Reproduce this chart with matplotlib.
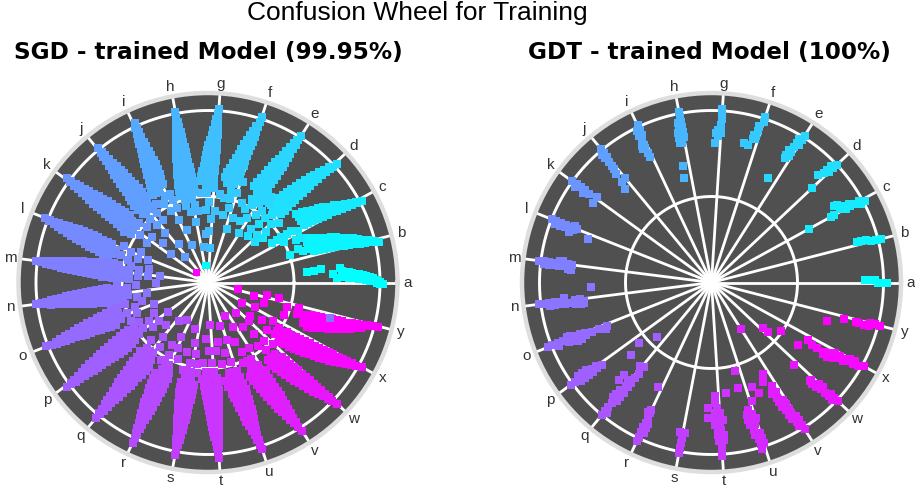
import numpy as np
import matplotlib
matplotlib.use("Agg")
import matplotlib.pyplot as plt

letters = list("abcdefghijklmnopqrstuvwxy")
main_title = "Confusion Wheel for Training"
left_title = "SGD - trained Model (99.95%)"
right_title = "GDT - trained Model (100%)"

# each row: radius (percent of outer ring), then angular offsets (degrees) from the class spoke
sgd_a = [(102,-.5),(100,-.5,.3),(98,0,1),(96,.4,1.6),(94,.6,1.3,2),(92,1,1.7,2.4),(90,1.2,2,2.8),(88,1.3,2.2,3.1),(86,1.6,2.5,3.4),(84,1.8,2.8,3.8),(82,2,3.1,4.2),(80,2.2,3.3,4.4),(78,3,5),(77,6.5),(75,2.2),(73,4),(66,7),(62,6),(58,6)]
sgd_b = [(102,-1),(99,-.7,-.2),(97,-.4,.4),(94,-.2,.4,1),(91,0,.9,1.8),(88,.2,1.4,2.6),(85,.6,2,3.4),(82,.8,2.6,4.2),(79,1,3,5),(76,1.3,2.8,4.3,5.8),(73,1.6,3.2,4.8,6.5),(70,1.8,3.6,5.6,7.4),(67,2,4,6.1,8.2),(64,2,4.4,6.8,9.2),(62,4,6,8),(58,4),(56,6),(50,4)]
sgd_c = [(101,-1),(98,-.8,-.2),(95,-.4,.4),(92,-.2,.4,1),(89,0,.9,1.8),(86,.2,1.4,2.6),(83,.6,1.9,3.2),(80,.8,2.8,4.4),(77,1,3.2,5.2),(74,1.2,2.8,4.4,6),(71,1.6,3.2,5,6.8),(68,2,4,6,8),(65,2.4,4.6,6.9,9.2),(60,-3,1),(57,3,-3),(54,3),(50,3,-1),(47,3),(44,3),(41,10)]
sgd_d = [(102,-.5),(99,-.3),(97,-.2,.4),(94,0,.5,1),(91,.1,.8,1.6),(88,.2,1.2,2.2),(85,.2,1.5,2.8),(82,.2,1.8,3.4),(79,.2,2.1,4),(76,.2,1.7,3.2,4.6),(73,.2,1.9,3.6,5.2),(70,.3,2.1,3.9,5.7),(67,.2,2.3,4.4,6.4),(64,0,1.8,3.6,5.4,7.2),(61,-.2,1.9,3.9,6,8),(58,0,2,4,6,8),(54,-3,3),(50,0,5),(45,-2,6),(40,1,8),(36,-2,6)]
sgd_e = [(101,0),(98,0,.4),(95,0,.8),(92,-.2,.5,1.2),(89,-.2,.7,1.6),(86,-.3,.9,2),(83,-.4,1,2.6),(80,-.5,1.2,3.2),(77,-.6,1.4,3.6),(74,-.6,1,2.6,4.2),(71,-.4,1.4,3,4.8),(68,-.2,1.6,3.6,5.4),(65,.2,2.2,4.2,6.4),(62,-4,-2,-.2,1.6,3.4,5.2,7),(58,-5,-3,-1,1,3),(55,0,5),(52,-5,3),(48,-3,6),(44,1),(40,-6,5),(34,0)]
sgd_f = [(101,0),(98,.2),(95,.2,.8),(92,.2,.8,1.4),(89,.3,1.1,2),(86,.4,1.5,2.7),(83,.5,1.8,3.4),(80,.6,2.2,4),(77,.8,2.6,4.6),(74,1,2.4,3.8,5.2),(71,1,2.6,4.2,6),(68,1.4,3.2,5,7),(65,1.6,3.2,4.8,6.4,8),(62,-1,1,3,5,7,9),(59,3,5,7),(55,0,4),(50,-5,3,7),(45,2),(40,-3,5),(33,-2)]
sgd_g = [(101,0),(98,.2),(95,.1,.7),(92,0,.6,1.2),(89,-.1,.8,1.7),(86,-.2,1,2.2),(83,-.2,1.4,2.8),(80,-.3,1.6,3.4),(77,-.2,1.8,3.9),(74,-.2,1.4,3,4.6),(71,0,1.7,3.4,5.2),(68,0,1.9,3.8,5.8),(65,.2,1.8,3.4,5,6.6),(62,.2,2,3.8,5.6,7.4),(59,.2,2.2,4,6,8),(55,0,2.5,5),(52,-4,4,8),(47,3),(42,-2,5),(37,1),(30,2),(20,0)]
sgd_h = [(101,0),(98,0),(95,-.2,.5),(92,-.4,.3,1),(89,-.5,.4,1.4),(86,-.7,.5,1.8),(83,-.8,.6,2.2),(80,-1,.8,2.6),(77,-1.2,1,3.1),(74,-1.4,.3,2,3.6),(71,-1.6,.2,2.2,4),(68,-1.8,.3,2.4,4.6),(65,-2,.4,2.8,5.2),(62,-2.2,-.2,1.8,3.8,5.8),(59,-2.2,0,2,4,6.2),(56,-2.4,0,2,4,6.5),(53,-2.4,0,2.2,4.6,7),(50,0,2.5,5),(46,-1,5),(42,-3,3),(36,0),(28,-8),(21,-4)]
sgd_i = [(102,-.5),(99,-.5,0),(96,-.5,.4),(93,-.6,.1,.8),(90,-.7,.2,1.2),(87,-.8,.4,1.6),(84,-1,.6,2.2),(81,-1.2,.8,2.6),(78,-1.4,1,3.1),(75,-1.4,.3,2,3.6),(72,-1.6,.4,2.4,4.2),(69,-1.4,.7,2.8,4.8),(66,-1,1.2,3.4,5.6),(63,-.6,1.2,3,4.8,6.4),(60,3,5,7),(56,1,-2),(52,-2,4),(47,2,-3),(40,0),(33,-4),(24,-2)]
sgd_j = [(101,-.5),(98,-.5,0),(95,-.7,.2),(92,-1,-.2,.5),(89,-1.2,-.2,.8),(86,-1.5,-.2,1),(83,-1.8,-.2,1.4),(80,-2,0,1.8),(77,-2.4,0,2.2),(74,-2.6,-.9,.8,2.5),(71,-3,-1,1,2.8),(68,-3.2,-1,1,3.2),(65,-3.6,-1.2,1.2,3.8),(62,-4,-2,.2,2.2,4.4),(59,-3,-1,1,3,4.4),(55,-6,-4,-1,1.5,4),(50,3,-3),(45,-4,2),(38,1),(28,-2),(20,3)]
sgd_k = [(102,-.5),(99,-.6,-.1),(96,-.8,.2),(93,-1,-.3,.4),(90,-1.2,-.3,.6),(87,-1.5,-.4,.8),(84,-1.9,-.3,1.2),(81,-2.2,-.3,1.6),(78,-2.5,-.4,1.8),(75,-2.9,-1.2,.4,2),(72,-3.2,-1.4,.4,2.2),(69,-3.6,-1.6,.4,2.4),(66,-4,-1.8,.4,2.8),(63,-4.4,-2,.4,3.2),(60,-4.8,-2.6,-.6,1.6,3.6),(57,-3,-1,1,3,5),(53,-5,-2,1,4),(48,-6,1),(42,-3,3),(35,-5),(27,-2)]
sgd_l = [(102,0),(99,0,.4),(96,0,.9),(93,-.2,.6,1.4),(90,-.3,.7,1.8),(87,-.4,.9,2.2),(84,-.6,1,2.8),(81,-.8,1.2,3.2),(78,-1,1.4,3.7),(75,-1,.7,2.4,4.2),(72,-1,.9,2.8,4.8),(69,-.8,1.2,3.2,5.4),(66,-.6,1.4,3.6,6),(63,-.6,1.6,3.8,6.8),(60,-.4,1.6,3.6,5.6,7.6),(57,2,3.5,5),(53,-2,4),(48,0,6),(43,-3,3),(37,1)]
sgd_m = [(101,0),(98,0,.3),(95,-.3,.6),(92,-.6,.1,.9),(89,-.9,.1,1.2),(86,-1.1,.1,1.4),(83,-1.5,0,1.7),(80,-1.8,0,2),(77,-2,0,2.3),(74,-2.4,-.8,.9,2.6),(71,-2.6,-.8,1,2.9),(68,-3,-1,1,3.2),(65,-3.3,-1.1,1.2,3.6),(62,-3.7,-1.2,1.4,4),(59,-4,-2,0,2.2,4.3),(56,-4.2,-2,0,2.2,4.4),(53,-4,-1,2,5),(50,-1,1.5,4),(46,-5,1,5),(41,-3,2),(35,1,-6),(28,0)]
sgd_n = [(101,0),(98,-.2,.2),(95,-.5,.5),(92,-.8,0,.8),(89,-1,0,1),(86,-1.3,0,1.2),(83,-1.7,0,1.6),(80,-1.9,0,1.9),(77,-2.1,0,2.2),(74,-2.5,-.8,.9,2.5),(71,-2.7,-.9,1,2.8),(68,-3,-1,1,3.2),(65,-3.4,-1,1.2,3.6),(62,-3.7,-1.2,1.4,4),(59,-4,-1.8,.3,2.4,4.6),(56,-3.6,-1.6,.3,2.2,4.2),(53,-5,-2.5,0,2.5,5),(50,-2,.5,3),(47,-3,2),(42,-5,4),(36,3),(30,-7)]
sgd_o = [(101,0),(98,0,.3),(95,-.4,.5),(92,-.7,0,.6),(89,-1,-.1,.7),(86,-1.4,-.3,.8),(83,-1.8,-.4,1),(80,-2.2,-.5,1.3),(77,-2.6,-.6,1.6),(74,-3,-1.4,.2,1.8),(71,-3.4,-1.6,.2,2),(68,-3.8,-1.8,.3,2.4),(65,-4.4,-2,.3,2.6),(62,-5,-2.6,-.2,1.4,3),(59,-5.4,-3.2,-1.2,1,3),(55,-6,-3,-1,1),(50,-7,-1,5),(45,-3,2),(40,-6),(34,0)]
sgd_p = [(102,.5),(99,.2,.6),(96,0,.9),(93,-.4,.3,1),(90,-.7,.3,1.2),(87,-1,.2,1.4),(84,-1.5,0,1.6),(81,-1.9,-.2,1.8),(78,-2.2,-.3,2),(75,-2.6,-1,.6,2.2),(72,-3,-1.2,.6,2.4),(69,-3.3,-1.3,.7,2.6),(66,-3.8,-1.6,.6,2.8),(63,-4.2,-1.8,.6,3),(60,-4.6,-2.6,-.6,1.4,3.2),(57,-5,-3,-1,1,3.2),(54,-5.6,-3.6,-1.6,.4,2.4),(50,-5,-2,1),(46,-6,-1),(41,-3,3),(36,-7,2),(29,0)]
sgd_q = [(102,0),(99,-.2,.2),(96,-.5,.5),(93,-.7,0,.8),(90,-1,0,1),(87,-1.3,0,1.3),(84,-1.7,0,1.7),(81,-2,0,2),(78,-2.3,0,2.3),(75,-2.6,-.9,.9,2.7),(72,-2.8,-.9,1.1,3),(69,-3.2,-1,1.2,3.5),(66,-3.7,-1.2,1.4,4),(63,-4,-1.3,1.5,4.4),(60,-4,-2,.4,2.6,4.8),(56,-5,-3,-1,1,3),(52,-3,-.5,2),(47,-5,3),(41,0),(35,-5),(28,3)]
sgd_r = [(103,0),(100,0),(97,-.4,.2),(94,-.7,-.2,.3),(91,-1,-.3,.4),(88,-1.5,-.5,.5),(85,-1.9,-.4,1),(82,-2.4,-.5,1.2),(79,-2.8,-.6,1.4),(76,-3,-1.5,0,1.6),(73,-3.6,-1.8,0,1.8),(70,-4,-2,0,2),(67,-4.4,-2.2,-.1,2.2),(64,-5,-2.6,-.2,2.4),(61,-5.4,-3.4,-1.4,.6,2.6),(57,-3,-.5,2),(53,-6,-3,0),(48,-3,4),(42,-5,1),(35,-1),(25,-4)]
sgd_s = [(102,0),(99,0),(96,-.3,.3),(93,-.6,0,.6),(90,-.9,0,.8),(87,-1.2,-.1,1),(84,-1.6,-.1,1.4),(81,-1.9,-.2,1.6),(78,-2.2,-.3,1.9),(75,-2.6,-1,.6,2),(72,-3,-1.2,.6,2.2),(69,-3.4,-1.4,.6,2.4),(66,-3.8,-1.6,.6,2.8),(63,-4.2,-1.8,.6,3),(60,-4.6,-2.6,-.6,1.4,3.2),(57,-3,-1,1),(53,-5,-2.5,0,2,4),(48,-2,3),(42,-6,1),(36,-1),(28,-5)]
sgd_t = [(102,0),(99,-.2),(96,-.5,.2),(93,-.9,-.3,.3),(90,-1.2,-.4,.4),(87,-1.6,-.5,.6),(84,-2,-.6,.9),(81,-2.4,-.8,1.1),(78,-2.9,-1,1.2),(75,-3.2,-1.6,0,1.4),(72,-3.7,-1.8,-.1,1.6),(69,-4,-2,-.2,1.6),(66,-4.6,-2.4,-.3,1.8),(63,-5,-2.6,-.3,2),(60,-5.6,-3.6,-1.6,.2,2),(56,-7,-4.5,-2,0,2),(52,-5,-2.5,0),(47,-7,-1),(40,-3,3),(33,-6),(25,-1)]
sgd_u = [(102,0),(99,-.3),(96,-.6,-.1),(93,-1,-.5,0),(90,-1.6,-.7,.2),(87,-2,-.9,.2),(84,-2.6,-1,.6),(81,-3,-1.2,.8),(78,-3.5,-1.5,1),(75,-4,-2.2,-.5,1.2),(72,-4.6,-2.5,-.6,1.2),(69,-5.2,-3,-.8,1.4),(66,-6,-3.6,-1,1.6),(62,-7,-4.8,-2.8,-.7,1.4),(58,-8,-5.5,-3,-1,1),(54,-5,-2.5,0),(48,-8,-2),(42,-4),(35,-8,0),(26,-3)]
sgd_v = [(102,0),(99,-.4),(96,-.9,-.2),(93,-1.5,-.8,-.1),(90,-2,-1,0),(87,-2.6,-1.3,0),(84,-3.2,-1.4,.2),(81,-3.7,-1.8,.4),(78,-4.2,-2.2,.4),(75,-5,-3.2,-1.4,.4),(72,-5.6,-3.6,-1.6,.4),(69,-6.2,-4,-1.8,.4),(66,-7,-4.6,-2.2,.2),(63,-8,-5.4,-2.7,0),(60,-8.4,-6.2,-4,-2,0),(56,-6,-3.5,-1),(51,-9,-6,-3),(45,-6,0),(38,-8),(30,-3),(22,-6)]
sgd_w = [(103,0),(100,-.5),(97,-1,-.3),(94,-1.6,-.9,-.2),(91,-2.2,-1.3,-.4),(88,-2.9,-1.7,-.5),(85,-3.6,-2,-.6),(82,-4.2,-2.4,-.6),(79,-4.8,-2.8,-.8),(76,-5.6,-4,-2.4,-1),(73,-6.2,-4.5,-2.8,-1.2),(70,-7,-5,-3.2,-1.4),(67,-7.8,-5.7,-3.7,-1.6),(64,-8.6,-6.4,-4,-1.8),(61,-9.6,-7.5,-5.6,-3.8,-2),(57,-9,-6.5,-4),(52,-6,0),(47,-9,-3),(40,-5),(33,-9,0),(24,-5)]
sgd_x = [(102,0),(99,-.6),(96,-1,-.4),(93,-1.9,-1.2,-.6),(90,-2.6,-1.7,-.8),(87,-3.2,-2.1,-1),(84,-4,-2.4,-1),(81,-4.6,-2.8,-1.2),(78,-5.2,-3.2,-1.4),(75,-6,-4.4,-3,-1.6),(72,-6.6,-4.9,-3.3,-1.8),(69,-7.4,-5.6,-3.8,-2),(66,-8.2,-6,-4.2,-2.4),(63,-9,-6.8,-4.8,-2.6),(60,-9.8,-8,-6,-4.5,-3),(57,-10.4,-8.6,-6.6,-5,-3.4),(54,-11,-9,-7,-5,-3.4),(49,-9,-6.5,-4),(44,-10,-2),(38,-6),(31,-10,1),(23,-3)]
sgd_y = [(102,-.2),(99,-.5),(96,-1,-.6),(93,-2,-1.5,-1),(90,-2.8,-2,-1.2),(87,-3.6,-2.5,-1.5),(84,-4.4,-3,-1.7),(81,-5.2,-3.4,-1.8),(78,-6,-3.8,-2),(75,-6.8,-5.2,-3.6,-2.2),(72,-7.4,-5.6,-4,-2.4),(69,-8.2,-6.2,-4.4,-2.6),(66,-9,-7,-5,-3),(63,-10,-7.8,-5.4,-3.2),(60,-9,-6.5,-4),(55,-5,-3,-1),(48,-3,-9),(42,2),(35,-6,2),(28,-2),(18,2)]

gdt_a = [(102,0),(100,0),(97,0),(95,1),(93,1),(91,1),(89,1)]
gdt_b = [(102,0),(99,0),(96,0),(93,1),(90,1),(88,1)]
gdt_c = [(101,-1),(98,-1,0),(95,0),(92,0,1),(89,1,0),(86,1,3),(84,3),(81,0),(79,0),(65,0)]
gdt_d = [(100,0),(97,0,1),(94,0,1),(91,1),(88,2),(80,0)]
gdt_e = [(101,0),(98,0,1),(95,0,1),(92,1),(89,1,2),(86,1,2),(84,2),(69,4)]
gdt_f = [(101,0),(98,0),(95,1),(92,1),(89,1,2),(87,1,2),(83,3,5)]
gdt_g = [(101,0),(98,0),(95,0),(92,0),(89,1),(87,0,2),(85,1),(81,2)]
gdt_h = [(101,0),(98,0),(95,0,1),(92,0,1),(89,0,1,2),(86,0,2),(83,1,2),(70,3),(63,4)]
gdt_i = [(101,0),(98,0,1),(95,0,1),(92,1),(89,1,2),(87,1,2),(84,1),(81,1)]
gdt_j = [(101,0),(98,0,1),(95,0,1),(92,1),(89,1),(87,1),(84,2),(79,0),(78,2),(74,3)]
gdt_k = [(100,0),(97,0,1),(94,0),(91,0,1),(88,0),(83,-1,2)]
gdt_l = [(100,0),(97,0,1),(94,0,1),(91,0,1),(88,0,2),(86,-1,1),(84,0),(76,2)]
gdt_m = [(101,0),(98,0,1),(95,0,1),(92,0,1),(89,-1,1),(87,-1,1),(84,0,2),(82,0,2)]
gdt_n = [(101,0),(98,0),(95,0,1),(92,0,1),(89,0,1),(86,-1,1),(84,1),(80,0,2),(77,0,2),(75,1,2),(70,-5)]
gdt_o = [(102,0),(99,0),(96,0,1),(93,0),(90,-1,1),(88,-1,1),(85,0,2),(82,0,2),(79,0,1),(75,1),(71,1),(67,2),(66,1)]
gdt_p = [(101,0),(98,0),(95,-1,1),(92,-1,1),(89,-1,1),(86,0,1),(83,0,1),(80,1),(63,6),(55,4),(45,9)]
gdt_q = [(100,0),(97,0,1),(94,0),(91,0),(88,-1,1),(85,-1,1),(82,-1,1),(78,-4,0,1),(75,-1,1),(74,-4),(71,1),(68,1),(64,-1),(63,1)]
gdt_r = [(102,0),(99,0),(96,0,1),(93,0,1),(90,0,1),(87,0),(84,-1,0),(82,0),(68,-2)]
gdt_s = [(101,0),(98,0),(95,0),(92,0),(89,-1,1)]
gdt_t = [(101,0),(98,0),(95,0),(92,-1,1),(89,-1,1),(86,-1,0),(83,-2,0),(80,-2,1),(79,-5),(76,-2,0),(73,-5,-1),(70,-2),(66,-2),(65,4)]
gdt_u = [(101,-1),(98,-1,0),(95,-1,0),(92,-2,0),(89,-2),(86,-3,-1),(83,-3,0),(80,-3,-1),(77,-2),(73,1),(65,3),(63,-4),(53,-3)]
gdt_v = [(101,0),(98,-1,0),(95,-1,0),(92,-2,0),(89,-2,-1),(86,-2,-1),(83,-3,-1),(80,-3,-1),(77,-3),(74,-4,-2),(70,-2,-9),(65,-5),(61,-3),(32,0)]
gdt_w = [(101,0),(98,-1,0),(95,-1,0),(92,-1),(89,-1,0),(86,-2,0),(83,-2),(81,-2,-1),(68,-2),(44,2),(40,2)]
gdt_x = [(101,0),(98,-1),(95,-1,0),(92,-1,0),(89,-2,-1),(86,-2,-1),(83,-3,-1),(80,-4,-2),(77,-4,-3),(72,-3),(69,-3),(65,-2),(62,-7),(49,-6)]
gdt_y = [(101,0),(98,0),(95,-1,0),(92,-1),(89,-1),(87,-1),(80,-1),(71,-4)]

# misclassified points in the left wheel: radius %, angle in degrees, colour class index
under_r = [79, 9, 10]
under_deg = [57, 138, 97]
under_cls = [24, 24, 0]
over_r = [74]
over_deg = [344]
over_cls = [13]

sgd_rows = [sgd_a,sgd_b,sgd_c,sgd_d,sgd_e,sgd_f,sgd_g,sgd_h,sgd_i,sgd_j,sgd_k,sgd_l,sgd_m,
            sgd_n,sgd_o,sgd_p,sgd_q,sgd_r,sgd_s,sgd_t,sgd_u,sgd_v,sgd_w,sgd_x,sgd_y]
gdt_rows = [gdt_a,gdt_b,gdt_c,gdt_d,gdt_e,gdt_f,gdt_g,gdt_h,gdt_i,gdt_j,gdt_k,gdt_l,gdt_m,
            gdt_n,gdt_o,gdt_p,gdt_q,gdt_r,gdt_s,gdt_t,gdt_u,gdt_v,gdt_w,gdt_x,gdt_y]

W, H = 915, 494
RING_PX = 189.5
UNIT_PX = 172.0
MS = 27
cmap = plt.cm.cool
n = len(letters)
spoke_deg = 360.0 / n

plt.rcParams["font.family"] = ["Liberation Sans", "DejaVu Sans"]
fig = plt.figure(figsize=(W / 100, H / 100), dpi=100, facecolor="white")


def wheel(cx, cy, rows_by_class):
    ax = fig.add_axes([(cx - RING_PX) / W, (H - cy - RING_PX) / H, 2 * RING_PX / W, 2 * RING_PX / H],
                      projection="polar")
    ax.set_facecolor("#505050")
    ax.set_rlim(0, RING_PX / UNIT_PX)
    ax.set_xticks([])
    ax.set_yticks([])
    ax.grid(False)
    ax.spines["polar"].set_color("#dedede")
    ax.spines["polar"].set_linewidth(3.2)
    circle = np.linspace(0, 2 * np.pi, 400)
    for level in (0.5, 1.0):
        ax.plot(circle, np.full_like(circle, level), color="white", lw=2.1, zorder=1)
    for k, name in enumerate(letters):
        th = np.radians(k * spoke_deg)
        ax.plot([th, th], [0, RING_PX / UNIT_PX], color="white", lw=2.0, zorder=1, solid_capstyle="butt")
        ax.text(th, 1.158, name, ha="center", va="center", fontsize=11, color="#333333", clip_on=False)
    for k, rows in enumerate(rows_by_class):
        rr, tt = [], []
        for row in rows:
            for d in row[1:]:
                rr.append(row[0] / 100)
                tt.append(np.radians(k * spoke_deg + d))
        ax.scatter(tt, rr, s=MS, marker="s", color=cmap(k / (n - 1)), linewidths=0, zorder=3)
    return ax


ax_left = wheel(208.0, 282.5, sgd_rows)
ax_right = wheel(711.5, 282.5, gdt_rows)

ax_left.scatter(np.radians(under_deg), np.array(under_r) / 100, s=MS, marker="s",
                color=[cmap(c / (n - 1)) for c in under_cls], linewidths=0, zorder=2)
ax_left.scatter(np.radians(over_deg), np.array(over_r) / 100, s=MS, marker="s",
                color=[cmap(c / (n - 1)) for c in over_cls], linewidths=0, zorder=4)

fig.text(417.5 / W, 1 - 13 / H, main_title, ha="center", va="center", fontsize=19, color="black")
fig.text(208 / W, 1 - 52 / H, left_title, ha="center", va="center", fontsize=16.7,
         fontweight="bold", family="DejaVu Sans", color="black")
fig.text(709.5 / W, 1 - 52 / H, right_title, ha="center", va="center", fontsize=16.7,
         fontweight="bold", family="DejaVu Sans", color="black")

fig.savefig("out.png", dpi=100)
